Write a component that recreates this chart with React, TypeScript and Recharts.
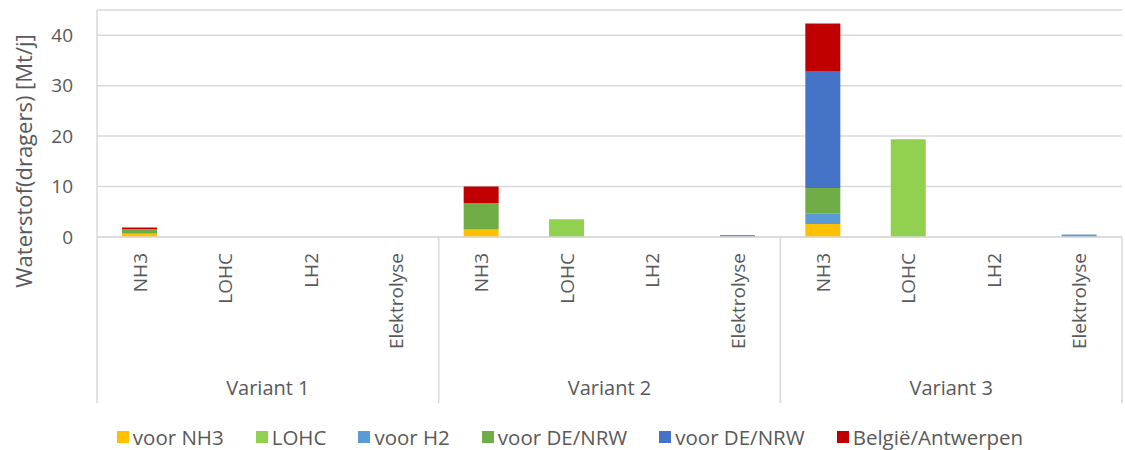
import React from 'react';
import { BarChart, Bar, XAxis, YAxis, CartesianGrid } from 'recharts';

// categories per variant
const variants = ['Variant 1', 'Variant 2', 'Variant 3'];
const carriers = ['NH3', 'LOHC', 'LH2', 'Elektrolyse'];

// Mt/j, order: V1 NH3, LOHC, LH2, Elektrolyse, V2 ..., V3 ...
const voorNH3 = [0.6, 0, 0, 0, 1.5, 0, 0, 0, 2.6, 0, 0, 0];
const lohc = [0, 0, 0, 0, 0, 3.5, 0, 0, 0, 19.4, 0, 0];
const voorH2 = [0.1, 0, 0, 0, 0, 0, 0, 0.4, 2.0, 0, 0, 0.5];
const voorDEgreen = [0.9, 0, 0, 0, 5.2, 0, 0, 0, 5.1, 0, 0, 0];
const voorDEblue = [0, 0, 0, 0, 0, 0, 0, 0, 23.2, 0, 0, 0];
const belgie = [0.3, 0, 0, 0, 3.3, 0, 0, 0, 9.4, 0, 0, 0];

const yTicks = [0, 10, 20, 30, 40];

const series = [
  { key: 'nh3', name: 'voor NH3', color: '#FFC000', values: voorNH3 },
  { key: 'lohc', name: 'LOHC', color: '#92D050', values: lohc },
  { key: 'h2', name: 'voor H2', color: '#5B9BD5', values: voorH2 },
  { key: 'deGreen', name: 'voor DE/NRW', color: '#70AD47', values: voorDEgreen },
  { key: 'deBlue', name: 'voor DE/NRW', color: '#4472C4', values: voorDEblue },
  { key: 'be', name: 'België/Antwerpen', color: '#C00000', values: belgie },
];

const data = variants.flatMap((v, vi) =>
  carriers.map((c, ci) => {
    const i = vi * carriers.length + ci;
    const row: any = { key: `${v}-${c}`, carrier: c, variant: v };
    series.forEach((s) => (row[s.key] = s.values[i]));
    return row;
  })
);

const W = 1125;
const H = 450;
const MARGIN = { top: 10, right: 3, bottom: 0, left: 0 };
const Y_W = 97;
const X_H = 213;
const BAND = (W - MARGIN.left - MARGIN.right - Y_W) / data.length;
const TEXT = '#595959';
const LINE = '#d9d9d9';
const FONT = '"Open Sans", sans-serif';

function CategoryTick(props: any) {
  const { x, y, index } = props;
  const row = data[index];
  const perGroup = carriers.length;
  const first = index % perGroup === 0;
  const last = index === data.length - 1;
  return (
    <g>
      <text
        transform={`translate(${x + 7},${y + 16}) rotate(-90)`}
        textAnchor="end"
        fontSize={19}
        fill={TEXT}
        fontFamily={FONT}
      >
        {row.carrier}
      </text>
      {first && (
        <>
          <line x1={x - BAND / 2} x2={x - BAND / 2} y1={y} y2={y + 166} stroke={LINE} strokeWidth={1.5} />
          <text
            x={x - BAND / 2 + (BAND * perGroup) / 2}
            y={y + 158}
            textAnchor="middle"
            fontSize={20}
            fill={TEXT}
            fontFamily={FONT}
          >
            {row.variant}
          </text>
        </>
      )}
      {last && <line x1={x + BAND / 2} x2={x + BAND / 2} y1={y} y2={y + 166} stroke={LINE} strokeWidth={1.5} />}
    </g>
  );
}

function YTitle(props: any) {
  const { viewBox } = props;
  const cx = viewBox.x + 23;
  const cy = 161;
  return (
    <text
      transform={`translate(${cx},${cy}) rotate(-90)`}
      textAnchor="middle"
      dominantBaseline="central"
      fontSize={22}
      fill={TEXT}
      fontFamily={FONT}
    >
      Waterstof(dragers) [Mt/j]
    </text>
  );
}

export default function App() {
  return (
    <div style={{ position: 'absolute', left: 0, top: 0, width: W, height: H, background: '#fff', fontFamily: FONT }}>
      <BarChart width={W} height={H} data={data} margin={MARGIN}>
        <CartesianGrid vertical={false} stroke={LINE} strokeWidth={1.5} />
        <XAxis
          dataKey="key"
          height={X_H}
          interval={0}
          tickLine={false}
          tickSize={0}
          tickMargin={0}
          axisLine={{ stroke: LINE, strokeWidth: 1.5 }}
          tick={<CategoryTick />}
        />
        <YAxis
          width={Y_W}
          domain={[0, 45]}
          ticks={yTicks}
          tickLine={false}
          tickSize={0}
          tickMargin={24}
          axisLine={{ stroke: LINE, strokeWidth: 1.5 }}
          tick={{ fontSize: 19, fill: TEXT, fontFamily: FONT }}
          label={<YTitle />}
        />
        {series.map((s) => (
          <Bar key={s.key} dataKey={s.key} name={s.name} stackId="a" fill={s.color} barSize={35} isAnimationActive={false} />
        ))}
      </BarChart>
      <div
        style={{
          position: 'absolute',
          left: 0,
          top: 425,
          width: 1140,
          height: 24,
          display: 'flex',
          justifyContent: 'center',
          alignItems: 'center',
          gap: 32,
          fontSize: 20.5,
          color: TEXT,
          fontFamily: FONT,
        }}
      >
        {series.map((s) => (
          <div key={s.key} style={{ display: 'flex', alignItems: 'center', gap: 4 }}>
            <span style={{ display: 'inline-block', width: 12, height: 12, background: s.color }} />
            <span style={{ whiteSpace: 'nowrap' }}>{s.name}</span>
          </div>
        ))}
      </div>
    </div>
  );
}
